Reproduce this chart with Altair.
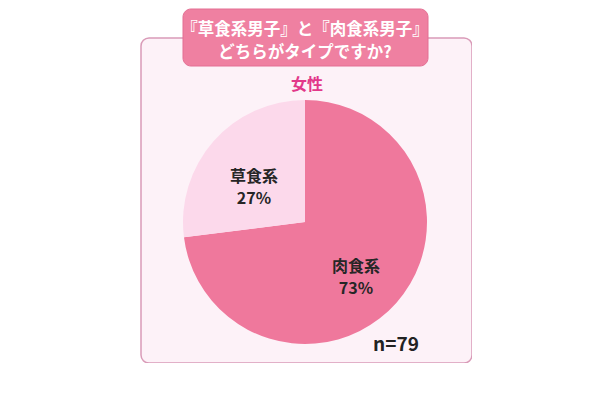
import altair as alt
import pandas as pd

# ---- data ----
CATEGORIES = ["肉食系", "草食系"]
PERCENTS = [73, 27]
SLICE_ORDER = [0, 1]
TITLE_LINES = ["『草食系男子』と『肉食系男子』", "どちらがタイプですか?"]
GROUP_LABEL = "女性"
N_LABEL = "n=79"

COLORS = ["#ef789c", "#fcd9eb"]
FONT = "Noto Sans CJK JP"

df = pd.DataFrame({"category": CATEGORIES, "percent": PERCENTS, "order": SLICE_ORDER})
df["label"] = df["category"] + "\n" + df["percent"].astype(str) + "%"

cx, cy = 164, 184

base = alt.Chart(df).encode(
    theta=alt.Theta("percent:Q", stack=True),
    order=alt.Order("order:Q"),
)

pie = base.mark_arc(outerRadius=122).encode(
    color=alt.Color("category:N", scale=alt.Scale(domain=CATEGORIES, range=COLORS), legend=None),
    x=alt.value(cx),
    y=alt.value(cy),
)

labels = base.mark_text(
    radius=68, lineBreak="\n", fontSize=16, fontWeight="bold", font=FONT,
    color="#262626", lineHeight=22,
).encode(text="label:N", x=alt.value(cx), y=alt.value(cy))

title_df = pd.DataFrame({"t": ["\n".join(TITLE_LINES)]})
title_box = alt.Chart(title_df).mark_rect(
    cornerRadius=8, fill="#ef80a1", stroke="#e36f93", strokeWidth=1
).encode(x=alt.value(42), x2=alt.value(287), y=alt.value(-29), y2=alt.value(28))

title_text = alt.Chart(title_df).mark_text(
    lineBreak="\n", fontSize=16.5, fontWeight="bold", font=FONT, color="white",
    lineHeight=23, baseline="middle",
).encode(text="t:N", x=alt.value(164), y=alt.value(-8))

group_df = pd.DataFrame({"g": [GROUP_LABEL]})
group_text = alt.Chart(group_df).mark_text(
    fontSize=16, fontWeight="bold", font=FONT, color="#e2388a"
).encode(text="g:N", x=alt.value(166), y=alt.value(47))

n_df = pd.DataFrame({"n": [N_LABEL]})
n_text = alt.Chart(n_df).mark_text(
    fontSize=19, fontWeight="bold", font=FONT, color="#222222"
).encode(text="n:N", x=alt.value(255), y=alt.value(307))

chart = alt.layer(pie, labels, title_box, title_text, group_text, n_text).properties(
    width=331,
    height=325,
    autosize="none",
    padding={"left": 133, "top": 30, "right": 0, "bottom": 0},
    background="white",
).configure_view(
    fill="#fdf2f8", stroke="#d99bb8", strokeWidth=1.5, cornerRadius=8
)

chart.save("out.html", embed_options={"renderer": "svg", "actions": False})
